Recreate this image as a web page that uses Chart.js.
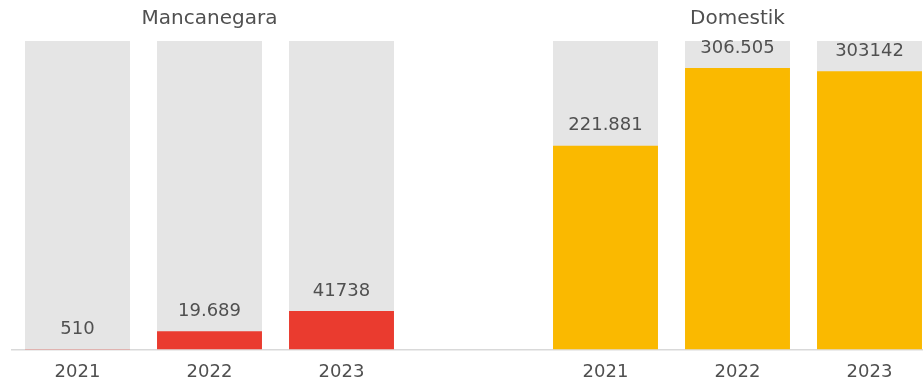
<!DOCTYPE html>
<html>
<head>
<meta charset="utf-8">
<script src="https://cdn.jsdelivr.net/npm/chart.js@4/dist/chart.umd.min.js"></script>
<style>
  html, body { margin: 0; padding: 0; background: #fff; overflow: hidden; }
  #wrap { width: 940px; height: 382px; position: relative; }
</style>
</head>
<body>
<div id="wrap"><canvas id="chart"></canvas></div>
<script>
// ---- data ----
const years = ['2021', '2022', '2023', '', '2021', '2022', '2023'];
const groupTitles = ['Mancanegara', 'Domestik'];
const mancanegara = [510, 19689, 41738];
const domestik = [221881, 306505, 303142];
const valueLabels = ['510', '19.689', '41738', '221.881', '306.505', '303142'];
const scaleMax = 336000;

// spread the two groups over the 7 slots (slot 3 is the gap)
const redData = [...mancanegara, null, null, null, null];
const yellowData = [null, null, null, null, ...domestik];
const backData = years.map(y => (y === '' ? null : scaleMax));

const FONT = '"DejaVu Sans", "Liberation Sans", Arial, sans-serif';
const TEXT = '#505050';

// value labels above the coloured bars + the two group titles
const labelPlugin = {
  id: 'labels',
  afterDatasetsDraw(chart) {
    const ctx = chart.ctx;
    ctx.save();
    ctx.font = '18px ' + FONT;
    ctx.fillStyle = TEXT;
    ctx.textAlign = 'center';
    ctx.textBaseline = 'middle';
    let k = 0;
    [1, 2].forEach(di => {
      const meta = chart.getDatasetMeta(di);
      meta.data.forEach((el, i) => {
        const v = chart.data.datasets[di].data[i];
        if (v == null) return;
        ctx.fillText(valueLabels[k++], el.x, el.y - 20);
      });
    });
    const x = chart.scales.x;
    ctx.font = '20px ' + FONT;
    ctx.fillText(groupTitles[0], x.getPixelForValue(1), 19);
    ctx.fillText(groupTitles[1], x.getPixelForValue(5), 19);
    ctx.restore();
  }
};

new Chart(document.getElementById('chart'), {
  type: 'bar',
  data: {
    labels: years,
    datasets: [
      { data: backData, backgroundColor: '#e5e5e5', order: 3, grouped: false },
      { data: redData, backgroundColor: '#ea3b2f', order: 1, grouped: false },
      { data: yellowData, backgroundColor: '#fab900', order: 2, grouped: false }
    ]
  },
  options: {
    responsive: true,
    maintainAspectRatio: false,
    animation: false,
    datasets: { bar: { categoryPercentage: 1, barPercentage: 0.795 } },
    layout: { padding: { top: 41, left: 11.5, right: 4.5, bottom: -13 } },
    plugins: { legend: { display: false }, tooltip: { enabled: false } },
    scales: {
      x: {
        grid: { display: false, drawTicks: false },
        border: { display: true, color: '#d9d9d9', width: 1.5 },
        ticks: { color: TEXT, font: { family: FONT, size: 18 }, padding: 12, maxRotation: 0, autoSkip: false }
      },
      y: {
        display: false,
        min: 0,
        max: scaleMax
      }
    }
  },
  plugins: [labelPlugin]
});
</script>
</body>
</html>
